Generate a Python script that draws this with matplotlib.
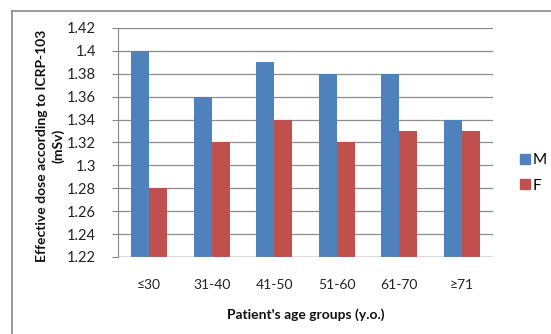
import numpy as np
import matplotlib
matplotlib.use("Agg")
import matplotlib.pyplot as plt
from matplotlib.lines import Line2D

grupos = ["≤30", "31-40", "41-50", "51-60", "61-70", "≥71"]
dosis_m = [1.40, 1.36, 1.39, 1.38, 1.38, 1.34]
dosis_f = [1.28, 1.32, 1.34, 1.32, 1.33, 1.33]
yticks = [1.22, 1.24, 1.26, 1.28, 1.30, 1.32, 1.34, 1.36, 1.38, 1.40, 1.42]

azul = "#4F81BD"
rojo = "#C0504D"

plt.rcParams["font.family"] = ["Lato", "DejaVu Sans"]

fig = plt.figure(figsize=(5.51, 3.34), dpi=100)
W, H = 551, 334
ax = fig.add_axes([118 / W, 1 - 257 / H, (493 - 118) / W, (257 - 28) / H])

x = np.arange(len(grupos))
ancho = 1 / 3.5
ax.bar(x - ancho / 2, np.array(dosis_m) - 1.22, ancho, bottom=1.22,
       color=azul, label="M", zorder=3)
ax.bar(x + ancho / 2, np.array(dosis_f) - 1.22, ancho, bottom=1.22,
       color=rojo, label="F", zorder=3)

ax.set_xlim(-0.5, len(grupos) - 0.5)
ax.set_ylim(1.22, 1.42)
ax.set_yticks(yticks)
ax.set_yticklabels([f"{v:g}" for v in yticks], fontsize=10.5, color="#222222")
ax.set_xticks(x)
ax.set_xticklabels(grupos, fontsize=10, color="#222222")
ax.tick_params(axis="x", length=0, pad=16)
ax.tick_params(axis="y", length=4, color="#888888", direction="out", pad=12)
ax.grid(axis="y", color="#8c8c8c", linewidth=0.9, zorder=0)

for lado in ["top", "right", "bottom"]:
    ax.spines[lado].set_visible(False)
ax.spines["left"].set_color("#888888")
ax.axhline(1.22, color="#888888", linewidth=1.0, zorder=4)

ax.set_xlabel("Patient's age groups (y.o.)", fontsize=10, fontweight="bold",
              labelpad=12, color="#111111")
fig.text(50 / W, 1 - 146 / H, "Effective dose according to ICRP-103\n(mSv)",
         rotation=90, ha="center", va="center", fontsize=10,
         fontweight="bold", color="#111111", linespacing=1.35)

# leyenda a la derecha
marcas = [Line2D([], [], marker="s", linestyle="none", markersize=7,
                 color=c) for c in (azul, rojo)]
fig.legend(marcas, ["M", "F"], loc="center left",
           bbox_to_anchor=(505 / W, 1 - 173 / H), frameon=False,
           fontsize=11, handletextpad=0.1, labelspacing=0.75,
           handlelength=0.8)

# marco del grafico
fig.add_artist(Line2D([12 / W, 12 / W], [0, 1 - 11 / H],
                      transform=fig.transFigure, color="#8a8a8a", lw=1.2))
fig.add_artist(Line2D([12 / W, 1], [1 - 11 / H, 1 - 11 / H],
                      transform=fig.transFigure, color="#8a8a8a", lw=1.2))

fig.savefig("out.png", dpi=100)
